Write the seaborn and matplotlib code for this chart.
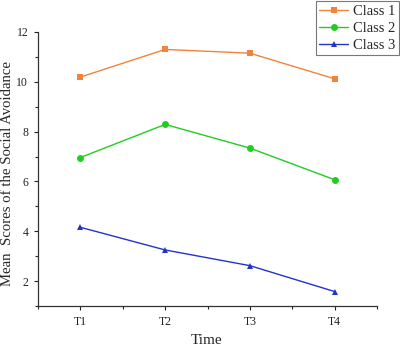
import numpy as np
import pandas as pd
import matplotlib
matplotlib.use('Agg')
import matplotlib.pyplot as plt
import seaborn as sns
from matplotlib.ticker import MultipleLocator

times = ['T1', 'T2', 'T3', 'T4']
class1 = [10.19, 11.30, 11.15, 10.12]
class2 = [6.96, 8.29, 7.34, 6.07]
class3 = [4.16, 3.25, 2.62, 1.58]
labels = ['Class 1', 'Class 2', 'Class 3']
colors = ['#F0843C', '#22CC22', '#2233CC']
markers = ['s', 'o', '^']

sns.set_style('ticks')
plt.rcParams['font.family'] = ['Liberation Serif', 'DejaVu Serif']

df = pd.DataFrame({
    'pos': np.tile(np.arange(1, 5), 3),
    'score': class1 + class2 + class3,
    'cls': np.repeat(labels, 4),
})

fig = plt.figure(figsize=(4.0, 3.48), dpi=100)
ax = fig.add_axes([38 / 400, 1 - 306 / 348, (377 - 38) / 400, (306 - 32) / 348])

sns.lineplot(data=df, x='pos', y='score', hue='cls', style='cls',
             palette=colors, markers=markers, dashes=False,
             markersize=5, linewidth=1, markeredgewidth=0, ax=ax)

ax.set_xlim(0.5, 4.5)
ax.set_ylim(1, 12)
ax.set_xticks([1, 2, 3, 4])
ax.set_xticklabels(times)
ax.xaxis.set_minor_locator(MultipleLocator(0.5))
ax.set_yticks([2, 4, 6, 8, 10, 12])
ax.yaxis.set_minor_locator(MultipleLocator(1))
ax.tick_params(which='major', length=3, width=0.8, labelsize=8.5, colors='#222222', pad=4)
ax.tick_params(which='minor', length=2, width=0.8)
for s in ['left', 'bottom']:
    ax.spines[s].set_linewidth(0.9)
    ax.spines[s].set_color('#333333')
sns.despine(ax=ax)

ax.set_xlabel('Time', fontsize=11)
ax.set_ylabel('Mean  Scores of the Social Avoidance', fontsize=10.6)
ax.xaxis.set_label_coords(0.4985, -0.102)
ax.yaxis.set_label_coords(-0.071, 0.484)

handles, lbls = ax.get_legend_handles_labels()
ax.get_legend().remove()
leg = fig.legend(handles, lbls, loc='upper right', bbox_to_anchor=(0.997, 0.997),
                 fontsize=10.5, frameon=True, fancybox=False, edgecolor='#555555',
                 handlelength=2.0, handletextpad=0.3, borderpad=0.25, labelspacing=0.25,
                 borderaxespad=0)
leg.get_frame().set_linewidth(0.8)

fig.savefig('out.png', dpi=100)
